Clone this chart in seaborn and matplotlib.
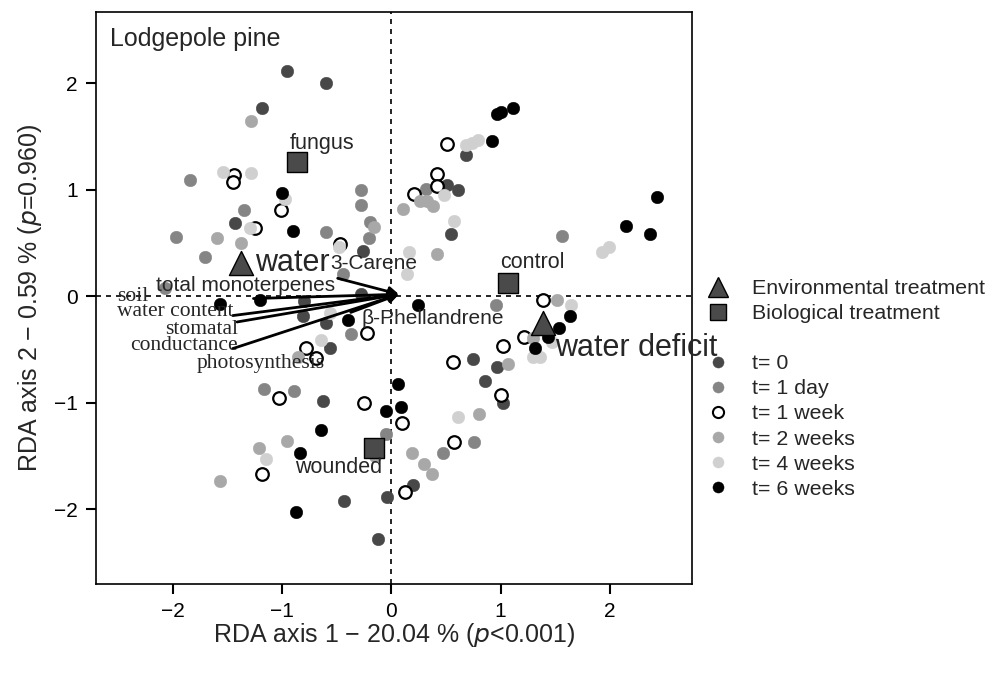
import matplotlib
matplotlib.use("Agg")
import matplotlib.pyplot as plt
from matplotlib.lines import Line2D
import seaborn as sns
import pandas as pd

# ---- sample scores (RDA axis 1, axis 2) by time group ----
t0_x = [-0.95, -0.60, -1.18, -1.43, -0.26, 0.68, 0.51, 0.61, 0.55, 0.75, 0.97, 0.86, 1.02, 0.20, -0.04,
        -0.81, -0.60, -0.56, -0.62, -0.43, -0.12, -0.80, -0.28]
t0_y = [2.12, 2.00, 1.77, 0.69, 0.43, 1.33, 1.05, 1.00, 0.59, -0.59, -0.66, -0.79, -1.00, -1.77, -1.88,
        -0.18, -0.25, -0.48, -0.98, -1.92, -2.28, -0.04, 0.02]
t1d_x = [-1.84, -1.97, -1.35, -0.60, -1.70, -2.07, -0.28, -0.28, -0.19, -0.20, -0.44, 0.32, 1.56, 0.96,
         0.76, 0.47, -0.37, -1.16, -0.89, -0.05]
t1d_y = [1.09, 0.56, 0.81, 0.60, 0.37, 0.08, 1.00, 0.86, 0.70, 0.55, 0.21, 1.01, 0.57, -0.08,
         -1.37, -1.47, -0.35, -0.87, -0.89, -1.29]
t1w_x = [-1.44, -1.45, -1.01, -1.25, -0.47, 0.51, 0.42, 0.42, 0.21, 1.39, 1.21, 1.02, 0.56, 1.00, 0.57,
         0.13, 0.10, -0.22, -0.78, -0.69, -1.03, -0.25, -1.18]
t1w_y = [1.14, 1.07, 0.81, 0.64, 0.49, 1.43, 1.15, 1.04, 0.96, -0.03, -0.38, -0.47, -0.62, -0.93, -1.37,
         -1.84, -1.19, -0.34, -0.48, -0.58, -0.95, -1.00, -1.67]
t2w_x = [-1.28, -1.59, -1.37, -0.16, 0.26, 0.33, 0.38, 0.11, 0.42, 1.52, 1.30, 1.07, 0.80, 0.19, 0.30,
         0.37, -0.85, -0.95, -1.21, -1.57, -0.15]
t2w_y = [1.65, 0.55, 0.50, 0.65, 0.90, 0.90, 0.85, 0.82, 0.40, -0.03, -0.39, -0.63, -1.10, -1.47, -1.57,
         -1.67, -0.57, -1.36, -1.42, -1.73, -1.50]
t4w_x = [-1.54, -1.28, -0.97, -1.29, -0.48, 0.68, 0.74, 0.79, 0.48, 0.57, 0.16, 0.14, 1.93, 1.99, 1.64,
         1.30, 1.36, 1.47, 0.61, -0.56, -0.64, -1.15]
t4w_y = [1.17, 1.16, 0.91, 0.64, 0.46, 1.42, 1.44, 1.47, 0.95, 0.71, 0.42, 0.21, 0.42, 0.46, -0.08,
         -0.57, -0.57, -0.43, -1.13, -0.16, -0.41, -1.53]
t6w_x = [-1.00, -0.90, 1.11, 0.97, 1.00, 0.92, 2.15, 2.37, 2.43, 0.24, 1.63, 1.53, 1.43, 1.31, 0.06,
         0.09, -0.05, -0.64, -0.83, -0.87, -1.57, -1.20, -0.40]
t6w_y = [0.97, 0.61, 1.77, 1.71, 1.73, 1.46, 0.66, 0.59, 0.93, -0.08, -0.18, -0.30, -0.38, -0.48, -0.82,
         -1.04, -1.08, -1.25, -1.47, -2.02, -0.07, -0.03, -0.22]

time_labels = ["t= 0", "t= 1 day", "t= 1 week", "t= 2 weeks", "t= 4 weeks", "t= 6 weeks"]

# ---- treatment centroids ----
env_names = ["water", "water deficit"]
env_x = [-1.37, 1.39]
env_y = [0.31, -0.25]
bio_names = ["fungus", "control", "wounded"]
bio_x = [-0.86, 1.07, -0.16]
bio_y = [1.26, 0.13, -1.42]

# ---- explanatory variable arrows (end points) ----
arrow_names = ["soil water content", "stomatal conductance", "photosynthesis",
               "total monoterpenes", "3-Carene", "β-Phellandrene"]
arrow_x = [-1.45, -1.41, -1.45, -1.26, -0.49, -0.37]
arrow_y = [-0.18, -0.24, -0.49, -0.02, 0.17, -0.15]

sns.set_style("ticks")
plt.rcParams["font.family"] = ["Liberation Sans", "DejaVu Sans"]
plt.rcParams["axes.unicode_minus"] = True

fig = plt.figure(figsize=(9.91, 6.77), dpi=100)
ax = fig.add_axes([96 / 991, 1 - 584 / 677, (692 - 96) / 991, (584 - 12) / 677])

ax.axhline(0, color="black", lw=1.2, ls=(0, (3, 3)), zorder=1)
ax.axvline(0, color="black", lw=1.2, ls=(0, (3, 3)), zorder=1)

groups = [
    (t0_x, t0_y, "#484848", "#484848"),
    (t1d_x, t1d_y, "#858585", "#858585"),
    (t1w_x, t1w_y, "white", "black"),
    (t2w_x, t2w_y, "#a8a8a8", "#a8a8a8"),
    (t4w_x, t4w_y, "#d0d0d0", "#d0d0d0"),
    (t6w_x, t6w_y, "black", "black"),
]
for (gx, gy, fc, ec), lab in zip(groups, time_labels):
    df = pd.DataFrame({"x": gx, "y": gy})
    sns.scatterplot(data=df, x="x", y="y", ax=ax, color=fc, edgecolor=ec,
                    linewidth=1.6 if fc == "white" else 0.3, s=82, zorder=3, legend=False)

# arrows: from variable end point to origin
for nx, ny in zip(arrow_x, arrow_y):
    ax.annotate("", xy=(0.07, 0.02), xytext=(nx, ny),
                arrowprops=dict(arrowstyle="-|>", color="black", lw=2.0,
                                mutation_scale=14, shrinkA=0, shrinkB=0), zorder=5)

serif = ["Liberation Serif", "DejaVu Serif"]
ax.text(-2.22, 0.0, "soil", family=serif, fontsize=15.5, ha="right", va="center", zorder=6)
ax.text(-1.445, -0.14, "water content", family=serif, fontsize=15.5, ha="right", va="center", zorder=6)
ax.text(-1.40, -0.315, "stomatal", family=serif, fontsize=15.5, ha="right", va="center", zorder=6)
ax.text(-1.40, -0.465, "conductance", family=serif, fontsize=15.5, ha="right", va="center", zorder=6)
ax.text(-0.61, -0.63, "photosynthesis", family=serif, fontsize=15.5, ha="right", va="center", zorder=6)
ax.text(-0.51, 0.10, "total monoterpenes", fontsize=15, ha="right", va="center", zorder=6)
ax.text(-0.56, 0.31, "3-Carene", fontsize=15, ha="left", va="center", zorder=6)
ax.text(-0.27, -0.21, "β-Phellandrene", fontsize=15, ha="left", va="center", zorder=6)

sns.scatterplot(x=env_x, y=env_y, ax=ax, marker="^", color="#4a4a4a", edgecolor="black",
                linewidth=1.0, s=300, zorder=7, legend=False)
sns.scatterplot(x=bio_x, y=bio_y, ax=ax, marker="s", color="#4a4a4a", edgecolor="black",
                linewidth=1.0, s=190, zorder=7, legend=False)

ax.text(env_x[0] + 0.12, env_y[0], env_names[0], fontsize=22, ha="left", va="center", zorder=8)
ax.text(env_x[1] + 0.11, env_y[1] - 0.23, env_names[1], fontsize=22, ha="left", va="center", zorder=8)
ax.text(bio_x[0] - 0.07, bio_y[0] + 0.18, bio_names[0], fontsize=15.5, ha="left", va="center", zorder=8)
ax.text(bio_x[1] - 0.07, bio_y[1] + 0.19, bio_names[1], fontsize=15.5, ha="left", va="center", zorder=8)
ax.text(bio_x[2] + 0.08, bio_y[2] - 0.19, bio_names[2], fontsize=15.5, ha="right", va="center", zorder=8)

ax.text(0.0235, 0.953, "Lodgepole pine", transform=ax.transAxes, fontsize=18, ha="left", va="center")

ax.set_xlim(-2.70, 2.75)
ax.set_ylim(-2.70, 2.67)
ax.set_xticks([-2, -1, 0, 1, 2])
ax.set_yticks([-2, -1, 0, 1, 2])
ax.tick_params(direction="out", length=7, width=1.5, labelsize=15, colors="black", pad=6)
for sp in ax.spines.values():
    sp.set_linewidth(1.2)
    sp.set_color("black")
ax.set_xlabel("RDA axis 1 \u2212 20.04 % ($\\it{p}$<0.001)", fontsize=18, labelpad=0)
ax.set_ylabel("RDA axis 2 \u2212 0.59 % ($\\it{p}$=0.960)", fontsize=18, labelpad=7)

handles = [
    Line2D([], [], ls="none", marker="^", markersize=14, markerfacecolor="#4a4a4a", markeredgecolor="black"),
    Line2D([], [], ls="none", marker="s", markersize=12, markerfacecolor="#4a4a4a", markeredgecolor="black"),
    Line2D([], [], ls="none"),
]
labels = ["Environmental treatment", "Biological treatment", " "]
for (gx, gy, fc, ec), lab in zip(groups, time_labels):
    handles.append(Line2D([], [], ls="none", marker="o", markersize=8, markerfacecolor=fc,
                          markeredgecolor=ec, markeredgewidth=1.5 if fc == "white" else 0.3))
    labels.append(lab)
fig.legend(handles, labels, loc="upper left", bbox_to_anchor=(707 / 991, 1 - 279 / 677),
           frameon=False, fontsize=15.4, labelspacing=0.285, handletextpad=1.09, borderpad=0,
           borderaxespad=0, handlelength=1.0)

fig.savefig("out.png", dpi=100)
